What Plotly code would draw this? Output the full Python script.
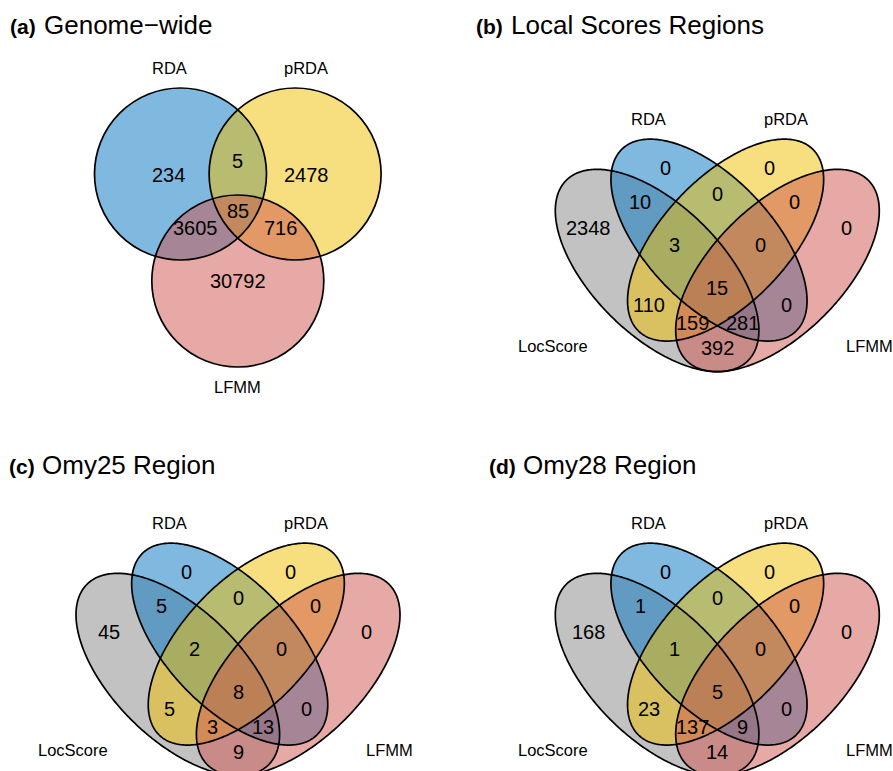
import numpy as np
import plotly.graph_objects as go

FONT = "Liberation Sans, Arial, Helvetica, sans-serif"
W, H = 893, 771

# ---- set colours (JCO palette), filled at 50% opacity ----
SET_COLORS = {
    "LocScore": "#868686",
    "RDA": "#0073C2",
    "pRDA": "#EFC000",
    "LFMM": "#CD534C",
}
FILL_ALPHA = 0.5
OUTLINE_WIDTH = 1.7

# ---- (a) three-set diagram ----
tri_sets = ["RDA", "pRDA", "LFMM"]
tri_regions = ["RDA", "RDA&pRDA", "pRDA", "RDA&pRDA&LFMM",
               "RDA&LFMM", "pRDA&LFMM", "LFMM"]
genome_wide = [234, 5, 2478, 85, 3605, 716, 30792]

# ---- (b)-(d) four-set diagrams ----
quad_sets = ["LocScore", "RDA", "pRDA", "LFMM"]
quad_regions = [
    "RDA", "pRDA", "LocScore&RDA", "RDA&pRDA", "pRDA&LFMM",
    "LocScore", "LFMM", "LocScore&RDA&pRDA", "RDA&pRDA&LFMM",
    "LocScore&RDA&pRDA&LFMM", "LocScore&pRDA", "RDA&LFMM",
    "LocScore&pRDA&LFMM", "LocScore&RDA&LFMM", "LocScore&LFMM",
]
local_scores = [0, 0, 10, 0, 0, 2348, 0, 3, 0, 15, 110, 0, 159, 281, 392]
omy25 = [0, 0, 5, 0, 0, 45, 0, 2, 0, 8, 5, 0, 3, 13, 9]
omy28 = [0, 0, 1, 0, 0, 168, 0, 1, 0, 5, 23, 0, 137, 9, 14]

panel_titles = [("(a)", "Genome\u2212wide"), ("(b)", "Local Scores Regions"),
                ("(c)", "Omy25 Region"), ("(d)", "Omy28 Region")]

# ---- layout geometry (pixels; x relative to each diagram's axis of symmetry) ----
PANEL_ORIGIN = {"a": (237.8, 0), "b": (717.3, 0), "c": (238.0, 404), "d": (717.3, 404)}
TITLE_X = {"a": (7.5, 41.5), "b": (474.2, 509.2), "c": (6.5, 39.9), "d": (486.5, 520.9)}
TITLE_Y = {"a": 24.5, "b": 24.5, "c": 24.5 + 440, "d": 24.5 + 440}

TRI_CIRCLES = {"RDA": (-57.3, 174.0, 86.0), "pRDA": (57.3, 174.0, 86.0),
               "LFMM": (0.0, 281.0, 86.0)}
TRI_LABEL_POS = [(-69.5, 175), (0, 161), (68.2, 175), (0, 210.7),
                 (-42.8, 228.3), (42.9, 228.3), (0, 281)]
TRI_SET_LABEL_POS = {"RDA": (-68.8, 67.7), "pRDA": (68.2, 67.7), "LFMM": (0, 386.7)}

# ellipse: centre x, centre y, semi-major, semi-minor, angle (deg, screen coords)
QUAD_ELLIPSES = {
    "LocScore": (-60.2, 270.5, 128.0, 64.9, 44.7),
    "RDA": (-8.3, 240.1, 125.9, 62.9, 46.4),
    "pRDA": (8.3, 240.1, 125.9, 62.9, 133.6),
    "LFMM": (60.2, 270.5, 128.0, 64.9, 135.3),
}
QUAD_LABEL_POS = [(-52, 168.3), (52, 168.3), (-77, 202.3), (0, 194), (77, 202.3),
                  (-128.7, 228.3), (128.7, 228.3), (-43.3, 245), (43.3, 245),
                  (0, 288.3), (-68.7, 305), (68.7, 305), (-25.3, 322.7),
                  (25.3, 322.7), (0, 348.3)]
QUAD_SET_LABEL_POS = {"RDA": (-69, 119.3), "pRDA": (68.4, 119.3),
                      "LocScore": (-164.6, 345.7), "LFMM": (151.7, 345.7)}

COUNT_SIZE = 20
SETNAME_SIZE = 16.5


def rgba(hex_color, alpha):
    h = hex_color.lstrip("#")
    r, g, b = (int(h[i:i + 2], 16) for i in (0, 2, 4))
    return f"rgba({r},{g},{b},{alpha})"


def ellipse_path(cx, cy, a, b, ang, n=360):
    t = np.linspace(0, 2 * np.pi, n, endpoint=False)
    ca, sa = np.cos(np.radians(ang)), np.sin(np.radians(ang))
    xs = cx + a * np.cos(t) * ca - b * np.sin(t) * sa
    ys = cy + a * np.cos(t) * sa + b * np.sin(t) * ca
    pts = " L".join(f"{x:.2f},{y:.2f}" for x, y in zip(xs, ys))
    return "M" + pts + " Z"


shapes, annotations = [], []


def add_text(x, y, text, size, xanchor="center"):
    annotations.append(dict(x=x, y=y, xref="x", yref="y", text=text, showarrow=False,
                            xanchor=xanchor, yanchor="middle",
                            font=dict(family=FONT, size=size, color="black")))


# titles
for key, (tag, title) in zip("abcd", panel_titles):
    x_tag, x_title = TITLE_X[key]
    annotations.append(dict(x=x_tag, y=TITLE_Y[key] + 1.5, xref="x", yref="y",
                            text=f"<b>{tag}</b>", showarrow=False, xanchor="left",
                            yanchor="middle", font=dict(family=FONT, size=21, color="black")))
    annotations.append(dict(x=x_title, y=TITLE_Y[key], xref="x", yref="y",
                            text=title, showarrow=False, xanchor="left",
                            yanchor="middle", font=dict(family=FONT, size=26, color="black")))

# (a) circles: fills first, then outlines
ox, oy = PANEL_ORIGIN["a"]
for style in ("fill", "line"):
    for s in tri_sets:
        cx, cy, r = TRI_CIRCLES[s]
        shp = dict(type="circle", xref="x", yref="y",
                   x0=ox + cx - r, x1=ox + cx + r, y0=oy + cy - r, y1=oy + cy + r)
        if style == "fill":
            shp.update(fillcolor=rgba(SET_COLORS[s], FILL_ALPHA), line=dict(width=0))
        else:
            shp.update(fillcolor="rgba(0,0,0,0)",
                       line=dict(color="black", width=OUTLINE_WIDTH))
        shapes.append(shp)
for (dx, dy), v in zip(TRI_LABEL_POS, genome_wide):
    add_text(ox + dx, oy + dy, str(v), COUNT_SIZE)
for s in tri_sets:
    dx, dy = TRI_SET_LABEL_POS[s]
    add_text(ox + dx, oy + dy, s, SETNAME_SIZE)

# (b)-(d) ellipses
for key, counts in zip("bcd", (local_scores, omy25, omy28)):
    ox, oy = PANEL_ORIGIN[key]
    for style in ("fill", "line"):
        for s in quad_sets:
            cx, cy, a, b, ang = QUAD_ELLIPSES[s]
            shp = dict(type="path", xref="x", yref="y",
                       path=ellipse_path(ox + cx, oy + cy, a, b, ang))
            if style == "fill":
                shp.update(fillcolor=rgba(SET_COLORS[s], FILL_ALPHA), line=dict(width=0))
            else:
                shp.update(fillcolor="rgba(0,0,0,0)",
                           line=dict(color="black", width=OUTLINE_WIDTH))
            shapes.append(shp)
    for (dx, dy), v in zip(QUAD_LABEL_POS, counts):
        add_text(ox + dx, oy + dy, str(v), COUNT_SIZE)
    for s in quad_sets:
        dx, dy = QUAD_SET_LABEL_POS[s]
        add_text(ox + dx, oy + dy, s, SETNAME_SIZE)

fig = go.Figure()
fig.update_layout(
    width=W, height=H, margin=dict(l=0, r=0, t=0, b=0),
    paper_bgcolor="white", plot_bgcolor="white",
    xaxis=dict(range=[0, W], visible=False, fixedrange=True),
    yaxis=dict(range=[H, 0], visible=False, fixedrange=True),
    shapes=shapes, annotations=annotations, showlegend=False,
)
fig.write_html("out.html")
